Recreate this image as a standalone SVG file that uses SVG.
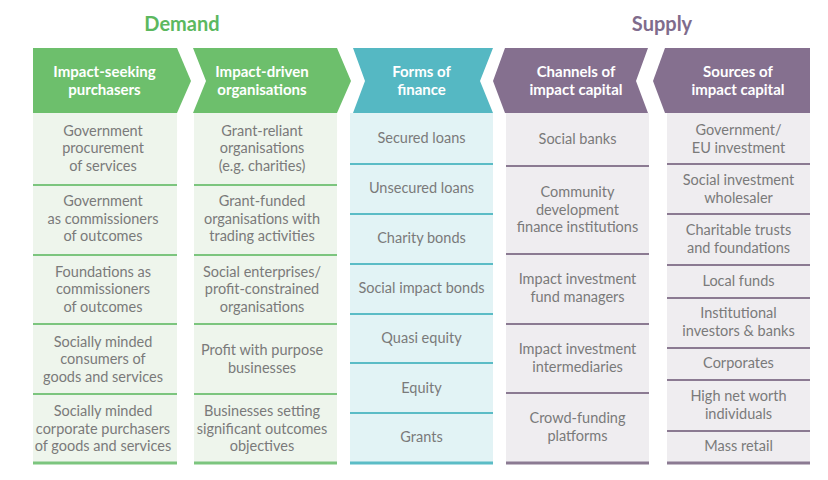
<svg xmlns="http://www.w3.org/2000/svg" width="828" height="480" viewBox="0 0 828 480">
<style>
  .title{font-family:Lato,"Liberation Sans",sans-serif;font-size:20px;font-weight:bold;text-anchor:middle}
  .hd{font-family:Lato,"Liberation Sans",sans-serif;font-size:15px;font-weight:bold;fill:#ffffff;text-anchor:middle}
  .tx{font-family:Lato,"Liberation Sans",sans-serif;font-size:14.5px;fill:#7a7a7a;text-anchor:middle}
  .gH{fill:#6dbf6c}.gB{fill:#eef5ec}.gL{stroke:#7cc57e}
  .tH{fill:#55b8c3}.tB{fill:#e2f3f5}.tL{stroke:#5bbcc6}
  .pH{fill:#85708f}.pB{fill:#efedf0}.pL{stroke:#8b7a92}
  .dv{stroke-width:2}.bt{stroke-width:3}
</style>
<rect width="828" height="480" fill="#ffffff"/>
<text class="title" x="182" y="31" fill="#5cb85f">Demand</text>
<text class="title" x="662" y="31" fill="#7f6c8c">Supply</text>

<g id="connectors"/>

<!-- Column 1 -->
<g id="col1-header">
  <polygon class="gH" points="33,48 177,48 191,81 177,113 33,113"/>
  <text class="hd" x="104.5" y="77">Impact-seeking</text>
  <text class="hd" x="104.5" y="95">purchasers</text>
</g>
<g id="col1-body">
  <rect class="gB" x="33" y="113" width="144" height="350"/>
  <line class="gL dv" x1="33" y1="185" x2="177" y2="185"/>
  <line class="gL dv" x1="33" y1="255" x2="177" y2="255"/>
  <line class="gL dv" x1="33" y1="324" x2="177" y2="324"/>
  <line class="gL dv" x1="33" y1="394" x2="177" y2="394"/>
  <line class="gL bt" x1="33" y1="463" x2="177" y2="463"/>
</g>
<g id="c1r1"><text class="tx" x="103" y="135.5">Government</text><text class="tx" x="103" y="153">procurement</text><text class="tx" x="103" y="170.5">of services</text></g>
<g id="c1r2"><text class="tx" x="103" y="206">Government</text><text class="tx" x="103" y="223.5">as commissioners</text><text class="tx" x="103" y="241">of outcomes</text></g>
<g id="c1r3"><text class="tx" x="103" y="276.5">Foundations as</text><text class="tx" x="103" y="294">commissioners</text><text class="tx" x="103" y="311.5">of outcomes</text></g>
<g id="c1r4"><text class="tx" x="103" y="346.5">Socially minded</text><text class="tx" x="103" y="364">consumers of</text><text class="tx" x="103" y="381.5">goods and services</text></g>
<g id="c1r5"><text class="tx" x="103" y="416">Socially minded</text><text class="tx" x="103" y="433.5">corporate purchasers</text><text class="tx" x="103" y="451">of goods and services</text></g>

<!-- Column 2 -->
<g id="col2-header">
  <polygon class="gH" points="193,48 337,48 351,81 337,113 193,113 206,81"/>
  <text class="hd" x="262" y="77">Impact-driven</text>
  <text class="hd" x="262" y="95">organisations</text>
</g>
<g id="col2-body">
  <rect class="gB" x="194" y="113" width="143" height="350"/>
  <line class="gL dv" x1="194" y1="185" x2="337" y2="185"/>
  <line class="gL dv" x1="194" y1="255" x2="337" y2="255"/>
  <line class="gL dv" x1="194" y1="324" x2="337" y2="324"/>
  <line class="gL dv" x1="194" y1="394" x2="337" y2="394"/>
  <line class="gL bt" x1="194" y1="463" x2="337" y2="463"/>
</g>
<g id="c2r1"><text class="tx" x="262" y="135.5">Grant-reliant</text><text class="tx" x="262" y="153">organisations</text><text class="tx" x="262" y="170.5">(e.g. charities)</text></g>
<g id="c2r2"><text class="tx" x="262" y="206">Grant-funded</text><text class="tx" x="262" y="223.5">organisations with</text><text class="tx" x="262" y="241">trading activities</text></g>
<g id="c2r3"><text class="tx" x="262" y="276.5">Social enterprises/</text><text class="tx" x="262" y="294">profit-constrained</text><text class="tx" x="262" y="311.5">organisations</text></g>
<g id="c2r4"><text class="tx" x="262" y="355">Profit with purpose</text><text class="tx" x="262" y="372.5">businesses</text></g>
<g id="c2r5"><text class="tx" x="262" y="416">Businesses setting</text><text class="tx" x="262" y="433.5">significant outcomes</text><text class="tx" x="262" y="451">objectives</text></g>

<!-- Column 3 -->
<g id="col3-header">
  <polygon class="tH" points="353,48 493,48 480,81 493,113 353,113 365,81"/>
  <text class="hd" x="421.5" y="77">Forms of</text>
  <text class="hd" x="421.5" y="95">finance</text>
</g>
<g id="col3-body">
  <rect class="tB" x="350" y="113" width="143" height="350"/>
  <line class="tL dv" x1="350" y1="164" x2="493" y2="164"/>
  <line class="tL dv" x1="350" y1="214" x2="493" y2="214"/>
  <line class="tL dv" x1="350" y1="264" x2="493" y2="264"/>
  <line class="tL dv" x1="350" y1="314" x2="493" y2="314"/>
  <line class="tL dv" x1="350" y1="363" x2="493" y2="363"/>
  <line class="tL dv" x1="350" y1="413" x2="493" y2="413"/>
  <line class="tL bt" x1="350" y1="463" x2="493" y2="463"/>
</g>
<g id="c3r1"><text class="tx" x="421.5" y="143">Secured loans</text></g>
<g id="c3r2"><text class="tx" x="421.5" y="193">Unsecured loans</text></g>
<g id="c3r3"><text class="tx" x="421.5" y="243">Charity bonds</text></g>
<g id="c3r4"><text class="tx" x="421.5" y="293">Social impact bonds</text></g>
<g id="c3r5"><text class="tx" x="421.5" y="343">Quasi equity</text></g>
<g id="c3r6"><text class="tx" x="421.5" y="392.5">Equity</text></g>
<g id="c3r7"><text class="tx" x="421.5" y="442">Grants</text></g>

<!-- Column 4 -->
<g id="col4-header">
  <polygon class="pH" points="505,48 648,48 636,81 648,113 505,113 493,81"/>
  <text class="hd" x="576" y="77">Channels of</text>
  <text class="hd" x="576" y="95">impact capital</text>
</g>
<g id="col4-body">
  <rect class="pB" x="506" y="113" width="143" height="350"/>
  <line class="pL dv" x1="506" y1="166" x2="649" y2="166"/>
  <line class="pL dv" x1="506" y1="254" x2="649" y2="254"/>
  <line class="pL dv" x1="506" y1="324" x2="649" y2="324"/>
  <line class="pL dv" x1="506" y1="393" x2="649" y2="393"/>
  <line class="pL bt" x1="506" y1="463" x2="649" y2="463"/>
</g>
<g id="c4r1"><text class="tx" x="577.5" y="144">Social banks</text></g>
<g id="c4r2"><text class="tx" x="577.5" y="197">Community</text><text class="tx" x="577.5" y="214.5">development</text><text class="tx" x="577.5" y="232">finance institutions</text></g>
<g id="c4r3"><text class="tx" x="577.5" y="284">Impact investment</text><text class="tx" x="577.5" y="301.5">fund managers</text></g>
<g id="c4r4"><text class="tx" x="577.5" y="354">Impact investment</text><text class="tx" x="577.5" y="371.5">intermediaries</text></g>
<g id="c4r5"><text class="tx" x="577.5" y="423">Crowd-funding</text><text class="tx" x="577.5" y="440.5">platforms</text></g>

<!-- Column 5 -->
<g id="col5-header">
  <polygon class="pH" points="665,48 810,48 810,113 665,113 653,81"/>
  <text class="hd" x="738" y="77">Sources of</text>
  <text class="hd" x="738" y="95">impact capital</text>
</g>
<g id="col5-body">
  <rect class="pB" x="667" y="113" width="143" height="350"/>
  <line class="pL dv" x1="667" y1="164" x2="810" y2="164"/>
  <line class="pL dv" x1="667" y1="214" x2="810" y2="214"/>
  <line class="pL dv" x1="667" y1="265" x2="810" y2="265"/>
  <line class="pL dv" x1="667" y1="298" x2="810" y2="298"/>
  <line class="pL dv" x1="667" y1="348" x2="810" y2="348"/>
  <line class="pL dv" x1="667" y1="380" x2="810" y2="380"/>
  <line class="pL dv" x1="667" y1="431" x2="810" y2="431"/>
  <line class="pL bt" x1="667" y1="463" x2="810" y2="463"/>
</g>
<g id="c5r1"><text class="tx" x="738.5" y="135">Government/</text><text class="tx" x="738.5" y="152.5">EU investment</text></g>
<g id="c5r2"><text class="tx" x="738.5" y="185">Social investment</text><text class="tx" x="738.5" y="202.5">wholesaler</text></g>
<g id="c5r3"><text class="tx" x="738.5" y="235">Charitable trusts</text><text class="tx" x="738.5" y="252.5">and foundations</text></g>
<g id="c5r4"><text class="tx" x="738.5" y="285.5">Local funds</text></g>
<g id="c5r5"><text class="tx" x="738.5" y="318">Institutional</text><text class="tx" x="738.5" y="335.5">investors &amp; banks</text></g>
<g id="c5r6"><text class="tx" x="738.5" y="368">Corporates</text></g>
<g id="c5r7"><text class="tx" x="738.5" y="401">High net worth</text><text class="tx" x="738.5" y="418.5">individuals</text></g>
<g id="c5r8"><text class="tx" x="738.5" y="451">Mass retail</text></g>
</svg>
